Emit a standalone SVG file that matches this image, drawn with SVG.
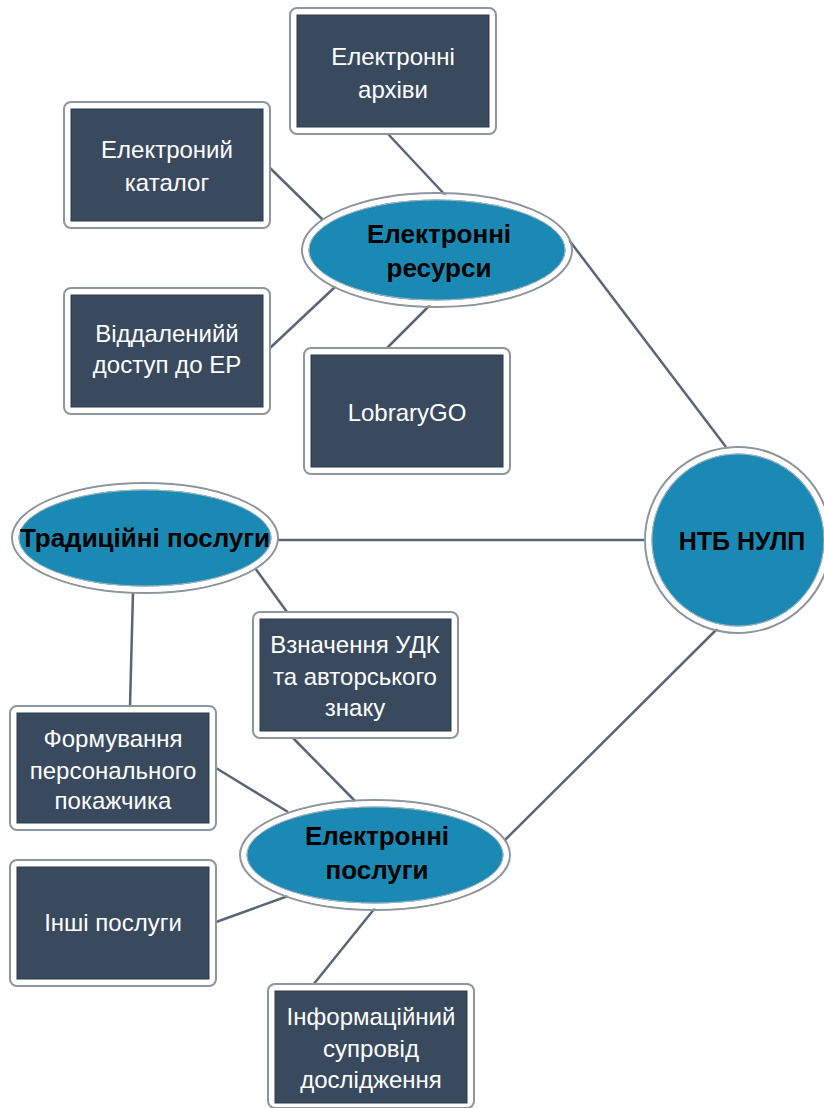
<svg xmlns="http://www.w3.org/2000/svg" width="824" height="1108" viewBox="0 0 824 1108">
<style>
.fr{fill:#ffffff;stroke:#8f959c;stroke-width:2}
.bx{fill:#3a4a5e;stroke:#2e3a4a;stroke-width:1}
.bt{font-family:"Liberation Sans",Arial,sans-serif;font-size:24px;fill:#ffffff;text-anchor:middle}
.el{fill:#1a8ab5;stroke:#ffffff;stroke-width:5}
.elo{fill:none;stroke:#8f959c;stroke-width:2}
.eli{fill:none;stroke:#b0b5ba;stroke-width:1}
.et{font-family:"Liberation Sans",Arial,sans-serif;font-size:26px;font-weight:bold;fill:#000000;text-anchor:middle}
.cn{stroke:#5a6676;stroke-width:2.5;fill:none}
</style>
<rect width="824" height="1108" fill="#ffffff"/>
<g id="connectors">
<line class="cn" x1="388" y1="134" x2="447" y2="197"/>
<line class="cn" x1="270" y1="168" x2="323" y2="220"/>
<line class="cn" x1="270" y1="348" x2="336" y2="286"/>
<line class="cn" x1="385" y1="350" x2="430" y2="305"/>
<line class="cn" x1="569" y1="240" x2="726" y2="447"/>
<line class="cn" x1="278" y1="540" x2="646" y2="540"/>
<line class="cn" x1="255" y1="568" x2="287" y2="612"/>
<line class="cn" x1="133" y1="592" x2="130" y2="706"/>
<line class="cn" x1="293" y1="738" x2="355" y2="801"/>
<line class="cn" x1="216" y1="768" x2="288" y2="812"/>
<line class="cn" x1="216" y1="922" x2="288" y2="896"/>
<line class="cn" x1="313" y1="985" x2="375" y2="908"/>
<line class="cn" x1="505" y1="840" x2="718" y2="628"/>
</g>
<g id="n-archives">
<rect class="fr" x="290" y="8" width="206" height="126" rx="7"/>
<rect class="bx" x="297" y="15" width="192" height="112"/>
<text class="bt" x="393" y="65">Електронні</text>
<text class="bt" x="393" y="98">архіви</text>
</g>
<g id="n-catalog">
<rect class="fr" x="64" y="102" width="206" height="126" rx="7"/>
<rect class="bx" x="71" y="109" width="192" height="112"/>
<text class="bt" x="167" y="158">Електроний</text>
<text class="bt" x="167" y="191">каталог</text>
</g>
<g id="n-remote">
<rect class="fr" x="64" y="288" width="206" height="126" rx="7"/>
<rect class="bx" x="71" y="295" width="192" height="112"/>
<text class="bt" x="167" y="342">Віддаленийй</text>
<text class="bt" x="167" y="373">доступ до ЕР</text>
</g>
<g id="n-librarygo">
<rect class="fr" x="304" y="348" width="206" height="126" rx="7"/>
<rect class="bx" x="311" y="355" width="192" height="112"/>
<text class="bt" x="407" y="421">LobraryGO</text>
</g>
<g id="n-udk">
<rect class="fr" x="253" y="612" width="205" height="126" rx="7"/>
<rect class="bx" x="260" y="619" width="191" height="112"/>
<text class="bt" x="355" y="653">Взначення УДК</text>
<text class="bt" x="355" y="685">та авторського</text>
<text class="bt" x="355" y="716">знаку</text>
</g>
<g id="n-index">
<rect class="fr" x="10" y="706" width="206" height="124" rx="7"/>
<rect class="bx" x="17" y="713" width="192" height="110"/>
<text class="bt" x="113" y="747">Формування</text>
<text class="bt" x="113" y="779">персонального</text>
<text class="bt" x="113" y="809">покажчика</text>
</g>
<g id="n-other">
<rect class="fr" x="10" y="860" width="206" height="126" rx="7"/>
<rect class="bx" x="17" y="867" width="192" height="112"/>
<text class="bt" x="113" y="931">Інші послуги</text>
</g>
<g id="n-support">
<rect class="fr" x="268" y="984" width="206" height="124" rx="7"/>
<rect class="bx" x="275" y="991" width="192" height="112"/>
<text class="bt" x="371" y="1025">Інформаційний</text>
<text class="bt" x="371" y="1057">супровід</text>
<text class="bt" x="371" y="1088">дослідження</text>
</g>
<g id="n-eres">
<ellipse class="elo" cx="437" cy="250" rx="135" ry="57"/>
<ellipse class="el" cx="437" cy="250" rx="131" ry="53"/>
<ellipse class="eli" cx="437" cy="250" rx="128" ry="50"/>
<text class="et" x="439" y="243">Електронні</text>
<text class="et" x="439" y="277">ресурси</text>
</g>
<g id="n-trad">
<ellipse class="elo" cx="145" cy="538" rx="133" ry="55"/>
<ellipse class="el" cx="145" cy="538" rx="129" ry="51"/>
<ellipse class="eli" cx="145" cy="538" rx="126" ry="48"/>
<text class="et" x="145" y="547">Традиційні послуги</text>
</g>
<g id="n-eserv">
<ellipse class="elo" cx="375" cy="855" rx="135" ry="55"/>
<ellipse class="el" cx="375" cy="855" rx="131" ry="51"/>
<ellipse class="eli" cx="375" cy="855" rx="128" ry="48"/>
<text class="et" x="377" y="845">Електронні</text>
<text class="et" x="377" y="879">послуги</text>
</g>
<g id="n-ntb">
<circle class="elo" cx="738" cy="540" r="93"/>
<circle class="el" cx="738" cy="540" r="89"/>
<circle class="eli" cx="738" cy="540" r="86"/>
<text class="et" x="742" y="550" style="font-size:25px">НТБ НУЛП</text>
</g>
</svg>
